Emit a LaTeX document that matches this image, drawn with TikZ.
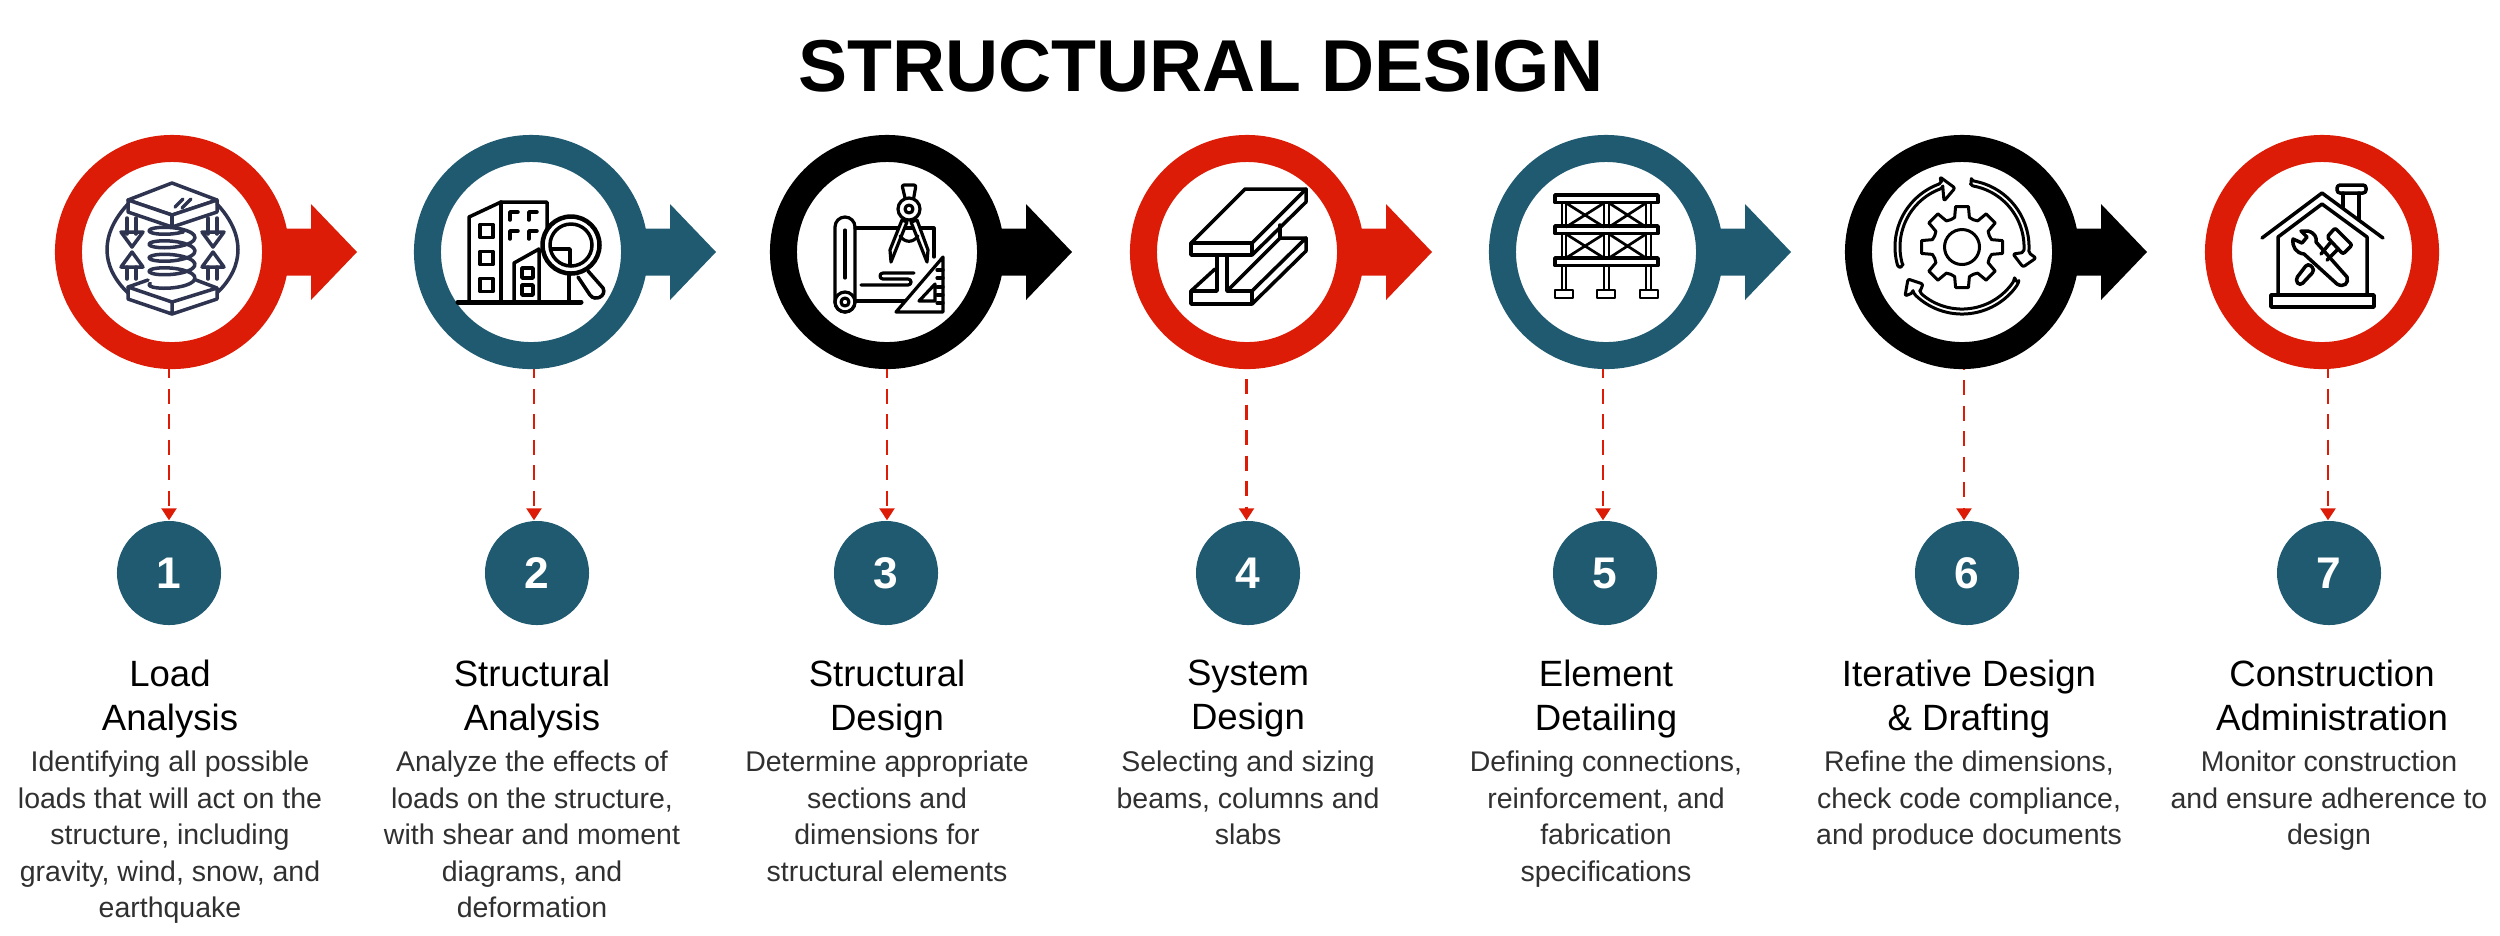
\documentclass[tikz,border=0pt]{standalone}
\usepackage{fontspec}
\setmainfont{Liberation Sans}
\usepackage{xcolor}
\usetikzlibrary{arrows.meta}
\usetikzlibrary{calc}
\definecolor{ringred}{HTML}{DC1C06}
\definecolor{ringteal}{HTML}{1F5A70}
\definecolor{ringblack}{HTML}{000000}
\definecolor{iconnavy}{HTML}{2E3350}
\definecolor{bodygray}{HTML}{303030}
\tikzset{
 ringnode/.style={circle,line width=0.27cm,minimum size=2.07cm,inner sep=0pt,fill=white},
 numnode/.style={circle,fill=ringteal,text=white,minimum size=1.04cm,inner sep=0pt,font=\fontsize{12.6pt}{14pt}\selectfont\bfseries},
 headnode/.style={align=center,anchor=north,inner sep=0pt,font=\fontsize{10.4pt}{12.45pt}\selectfont},
 bodynode/.style={align=center,anchor=north,inner sep=0pt,text=bodygray,font=\fontsize{8.1pt}{10.42pt}\selectfont},
 droplink/.style={ringred,line width=0.025cm,dash pattern=on 0.15cm off 0.105cm,-{Triangle[width=0.15cm,length=0.12cm]}},
 icon/.style={line width=0.035cm,line join=round,line cap=round},
}
\begin{document}
\begin{tikzpicture}[x=0.01cm,y=-0.01cm]
\useasboundingbox (0,0) rectangle (2500,935);

 \node[font=\fontsize{20.9pt}{24pt}\selectfont\bfseries] (title) at (1201,66) {STRUCTURAL DESIGN};

 %rings and arrows:
 \foreach \i/\rx/\col in {1/172/ringred,2/531/ringteal,3/887/ringblack,4/1247/ringred,5/1606/ringteal,6/1962/ringblack,7/2322/ringred}{
  \node[ringnode,draw=\col] (R\i) at (\rx,252) {};
  \ifnum\i<7
   \fill[\col] ($(R\i.center)+(100,-23.5)$) -- ($(R\i.center)+(139,-23.5)$) -- ($(R\i.center)+(139,-48)$)
    -- ($(R\i.center)+(185,0)$) -- ($(R\i.center)+(139,48)$) -- ($(R\i.center)+(139,23.5)$) -- ($(R\i.center)+(100,23.5)$) -- cycle;
  \fi
 }

 %numbers:
 \foreach \i/\nx/\dx/\ph in {1/169/0/0.06,2/537/-3/0.06,3/886/1/0.06,4/1248/-1.5/0.155,5/1605/-2/0.06,6/1967/-3/0.145,7/2329/-1/0.06}{
  \node[numnode] (N\i) at (\nx,573) {\i};
  \coordinate (D\i) at ($(N\i.north)+(\dx,0)$);
  \draw[droplink,dash phase=\ph cm] (D\i |- R\i.south) -- (D\i);
 }

 %texts:
 \foreach \i/\hx/\tx/\head/\body in {
  1/170/170/{Load\ \\Analysis}/{Identifying all possible\\loads that will act on the\\structure, including\\gravity, wind, snow, and\\earthquake},
  2/532/532/{Structural\ \\Analysis}/{Analyze the effects of\\loads on the structure,\\with shear and moment\\diagrams, and\\deformation},
  3/887/887/{Structural\ \\Design}/{Determine appropriate\\sections and\\dimensions for\\structural elements},
  4/1248/1248/{System\ \\Design}/{Selecting and sizing\\beams, columns and\\slabs},
  5/1606/1606/{Element\ \\Detailing}/{Defining connections,\\reinforcement, and\\fabrication\\specifications},
  6/1969/1969/{Iterative Design\ \\\& Drafting}/{Refine the dimensions,\\check code compliance,\\and produce documents},
  7/2332/2329/{Construction\ \\Administration}/{Monitor construction\\and ensure adherence to\\design}}{
  \node[headnode] (H\i) at (\hx,659) {\head};
  \node[bodynode] (B\i) at (\tx,750) {\body};
 }

 %spring icon:
 \begin{scope}[shift={(R1.center)},icon,draw=iconnavy]
  \draw plot[domain=60:1640,smooth,samples=90] ({23*cos(\x)},{-28+\x*0.0375+6.5*sin(\x)});
  \draw[fill=white] (0,-69) -- (45,-52) -- (0,-37) -- (-44,-52) -- cycle;
  \draw[fill=white] (-44,-52) -- (-44,-40) -- (0,-25) -- (45,-40) -- (45,-52) -- (0,-37) -- cycle;
  \draw (0,-37) -- (0,-25);
  \draw (3,-45) -- (11,-53) (10,-44) -- (19,-53);
  \draw (-44,35) -- (-24,28) (24,28) -- (45,36);
  \draw (-44,35) -- (0,50) -- (45,36) (-44,35) -- (-44,47) -- (0,62) -- (45,47) -- (45,36) (0,50) -- (0,62);
  \draw (-44,-48) .. controls (-72,-18) and (-72,14) .. (-44,41);
  \draw (45,-48) .. controls (73,-18) and (73,14) .. (45,41);
  \foreach \s in {-40,41}{
   \draw ($(\s,0)+(-5,-34)$) -- ($(\s,0)+(-5,-18)$) ($(\s,0)+(4,-34)$) -- ($(\s,0)+(4,-18)$);
   \draw ($(\s,0)+(-11,-20)$) -- ($(\s,0)+(0,-5)$) -- ($(\s,0)+(11,-20)$) -- cycle;
   \draw ($(\s,0)+(-5,15)$) -- ($(\s,0)+(-5,27)$) ($(\s,0)+(4,15)$) -- ($(\s,0)+(4,27)$);
   \draw ($(\s,0)+(-11,15)$) -- ($(\s,0)+(0,0)$) -- ($(\s,0)+(11,15)$) -- cycle;
  }
 \end{scope}

 %building icon:
 \begin{scope}[shift={(R2.center)},icon]
  \draw (-62,50) -- (-62,-35) -- (-30,-50) -- (16,-50) -- (16,-24);
  \draw (-30,-50) -- (-30,50);
  \foreach \c in {-21,6,33}{\draw (-51,\c-6.5) rectangle (-38,\c+6.5);}
  \foreach \a/\c in {-21/-40,-2/-40,-21/-21,-2/-21}{\draw (\a+8,\c) -- (\a,\c) -- (\a,\c+8);}
  \draw (-17,50) -- (-17,11) -- (8,-3) -- (8,50);
  \draw (-9,16) rectangle (2,26);
  \draw (-9,33) rectangle (2,43);
  \draw[line width=0.05cm] (-73,50) -- (50,50);
  \draw (38,23) -- (38,50);
  \draw[line width=0.045cm,fill=white] (40,-7) circle (28.5);
  \draw (40,-7) circle (21);
  \draw (21,-3) -- (39,-3) -- (39,12);
  \draw (47,25) -- (59,43) .. controls (64,50) and (76,44) .. (72,36) -- (57,19);
 \end{scope}

 %drawing tools icon:
 \begin{scope}[shift={(R3.center)},icon,line width=0.032cm]
  \draw (-32,-24) -- (47,-24) -- (47,5);
  \draw (-32,49) -- (18,49);
  \draw[rounded corners=0.1cm] (-52,-35) rectangle (-32,60);
  \draw (-42,-22) -- (-42,26);
  \draw (-42,50) circle (10) (-42,50) circle (4);
  \draw (-26,33) -- (21,33) .. controls (25,33) and (25,27) .. (21,27) -- (-4,27) .. controls (-8,27) and (-8,21) .. (-4,21) -- (27,21);
  \draw[fill=white] (56,5) -- (56,60) -- (9,60) -- cycle;
  \draw (48,32) -- (48,49) -- (32,49) -- cycle;
  \foreach \c in {18,26,35,43,51}{\draw (50,\c) -- (56,\c);}
  \draw[fill=white] (15,-32) -- (20,-30) -- (8,0) -- (4,10) -- (3,-2) -- cycle;
  \draw[fill=white] (24,-30) -- (30,-32) -- (41,-2) -- (40,10) -- (36,0) -- cycle;
  \draw (13,-16) .. controls (18,-9) and (26,-9) .. (31,-16);
  \draw[rounded corners=0.02cm] (15,-67) -- (29,-67) -- (26,-50) -- (19,-50) -- cycle;
  \draw[fill=white] (22,-43) circle (11);
  \draw (22,-43) circle (4);
 \end{scope}

 %beam icon:
 \begin{scope}[shift={(R4.center)},icon]
  \draw (-56,-9) -- (-2,-63) -- (59,-63) -- (5,-9);
  \draw (5,3) -- (59,-50) -- (59,-63);
  \draw (-56,-9) rectangle (5,3);
  \draw (-30,3) -- (-30,39) -- (-56,39) -- (-56,52) -- (5,52) -- (5,39) -- (-20,39) -- (-20,3);
  \draw (5,52) -- (59,-1) -- (59,-14) -- (5,39);
  \draw (-20,39) -- (33,-14) -- (59,-14);
  \draw (33,-14) -- (33,-27);
  \draw (-56,39) -- (-32,17);
 \end{scope}

 %frame icon:
 \begin{scope}[shift={(R5.center)},icon,line width=0.027cm]
  \foreach \a in {-44,-40,-2,3,40,45}{\draw (\a,-49) -- (\a,38);}
  \foreach \c in {-57,-26,6}{\draw[fill=white,line width=0.035cm] (-51,\c) rectangle (52,\c+7.5);}
  \foreach \a in {-51,-9,34}{\draw[fill=white] (\a,38) rectangle (\a+18,46);}
  \foreach \c in {-49,-18}{
   \draw (-40,\c) -- (-2,\c+24) (-2,\c) -- (-40,\c+24);
   \draw (3,\c) -- (40,\c+24) (40,\c) -- (3,\c+24);
  }
 \end{scope}

 %gear icon:
 \begin{scope}[shift={(R6.center)},icon,line width=0.03cm]
  \begin{scope}[shift={(0,-5)}]
   \draw (0,0) circle (17.5);
   \foreach \a in {0,45,...,315}{
    \draw (\a-22.5:29.5) -- (\a-14:30.5) -- (\a-9:41) -- (\a+9:41) -- (\a+14:30.5) -- (\a+22.5:29.5);
   }
   \draw[fill=white,rounded corners=0.02cm] plot[domain=162:252,smooth,samples=20] ({67*cos(\x)},{67*sin(\x)})
    -- (-22,-70) -- (-7,-59) -- (-18,-46) -- plot[domain=252:162,smooth,samples=20] ({62*cos(\x)},{62*sin(\x)}) -- cycle;
   \draw[fill=white,rounded corners=0.02cm] plot[domain=-82:5,smooth,samples=20] ({67*cos(\x)},{67*sin(\x)})
    -- (74,11) -- (61,20) -- (51,7) -- plot[domain=5:-82,smooth,samples=20] ({62*cos(\x)},{62*sin(\x)}) -- cycle;
   \draw[fill=white,rounded corners=0.02cm] plot[domain=32:137,smooth,samples=20] ({67*cos(\x)},{67*sin(\x)})
    -- (-57,49) -- (-54,32) -- (-39,37) -- plot[domain=133:32,smooth,samples=20] ({62*cos(\x)},{62*sin(\x)}) -- cycle;
  \end{scope}
 \end{scope}

 %house icon:
 \begin{scope}[shift={(R7.center)},icon]
  \draw (21,-45) -- (21,-59) (37,-32) -- (37,-59);
  \draw[rounded corners=0.03cm] (15,-59) -- (15,-67) -- (44,-67) -- (44,-59) -- cycle;
  \draw (-60,-14) -- (0,-59) -- (61,-14);
  \draw (-44,43) -- (-44,-15) -- (0,-48) -- (45,-15) -- (45,43);
  \draw (-51,43) rectangle (52,55);
  \draw[rounded corners=0.02cm] (13,-24) -- (30,-7) -- (21,2) -- (5,-15) -- cycle;
  \draw (8,-9) -- (-1,2) (15,-2) -- (5,8);
  \draw[rounded corners=0.04cm] (-14,11) -- (-7,18) -- (-22,34) -- (-27,28) -- cycle;
  \draw (-14,-21) .. controls (-7,-19) and (-5,-14) .. (-6,-10) -- (25,25) .. controls (27,31) and (22,36) .. (15,32) -- (-18,2) .. controls (-26,1) and (-30,-5) .. (-29,-13) -- (-20,-9) -- (-15,-15) -- (-21,-21) -- cycle;
 \end{scope}
\end{tikzpicture}
\end{document}
